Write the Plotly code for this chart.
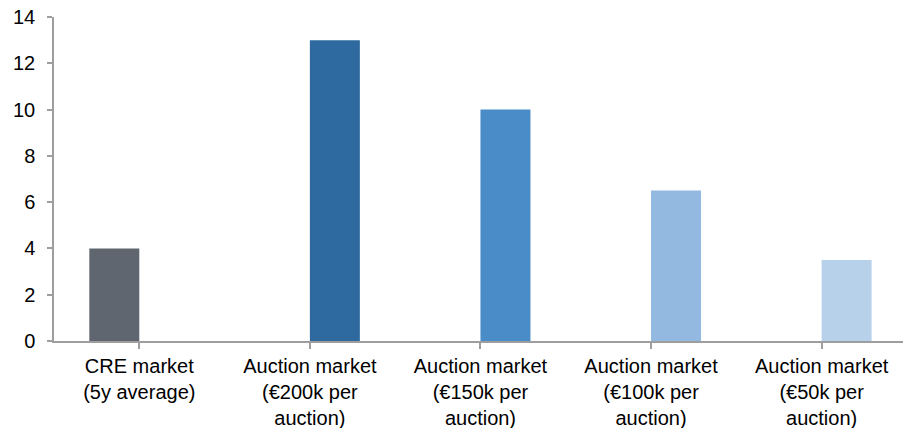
import plotly.graph_objects as go

categories = [
    "CRE market<br>(5y average)",
    "Auction market<br>(€200k per<br>auction)",
    "Auction market<br>(€150k per<br>auction)",
    "Auction market<br>(€100k per<br>auction)",
    "Auction market<br>(€50k per<br>auction)",
]
cre_values = [4, None, None, None, None]
auction_values = [None, 13, 10, 6.5, 3.5]
auction_colors = ["#2e6a9f", "#2e6a9f", "#4a8cc8", "#93b9e0", "#b7d1ea"]
cre_color = "#5f6670"
y_ticks = [0, 2, 4, 6, 8, 10, 12, 14]

x_idx = list(range(len(categories)))

fig = go.Figure()
fig.add_trace(go.Bar(x=x_idx, y=cre_values, marker=dict(color=cre_color, line=dict(width=0)), name="CRE"))
fig.add_trace(go.Bar(x=x_idx, y=auction_values, marker=dict(color=auction_colors, line=dict(width=0)), name="Auction"))

axis_color = "#9e9e9e"
fig.update_layout(
    width=903, height=428,
    margin=dict(l=54, r=0, t=17, b=87),
    paper_bgcolor="white", plot_bgcolor="white",
    showlegend=False,
    barmode="group", bargap=0.414, bargroupgap=0,
    font=dict(family="Liberation Sans, Arial, sans-serif", size=20, color="#000000"),
)
fig.update_xaxes(
    range=[-0.5, 4.477],
    tickmode="array", tickvals=x_idx, ticktext=categories,
    tickson="boundaries", ticks="outside", ticklen=6, tickcolor=axis_color, tickwidth=1.5,
    showline=True, linecolor=axis_color, linewidth=1.5,
    showgrid=False, zeroline=False, automargin=False,
    tickfont=dict(size=20),
)
fig.update_yaxes(
    range=[0, 14],
    tickmode="array", tickvals=y_ticks,
    ticks="outside", ticklen=5, tickcolor=axis_color, tickwidth=1.5,
    showline=True, linecolor=axis_color, linewidth=1.5,
    showgrid=False, zeroline=False, automargin=False,
    ticklabelstandoff=8,
    tickfont=dict(size=20),
)

fig.write_html(
    "out.html",
    config={"displayModeBar": False},
    post_script="document.body.style.margin='0';document.body.style.overflow='hidden';",
)
